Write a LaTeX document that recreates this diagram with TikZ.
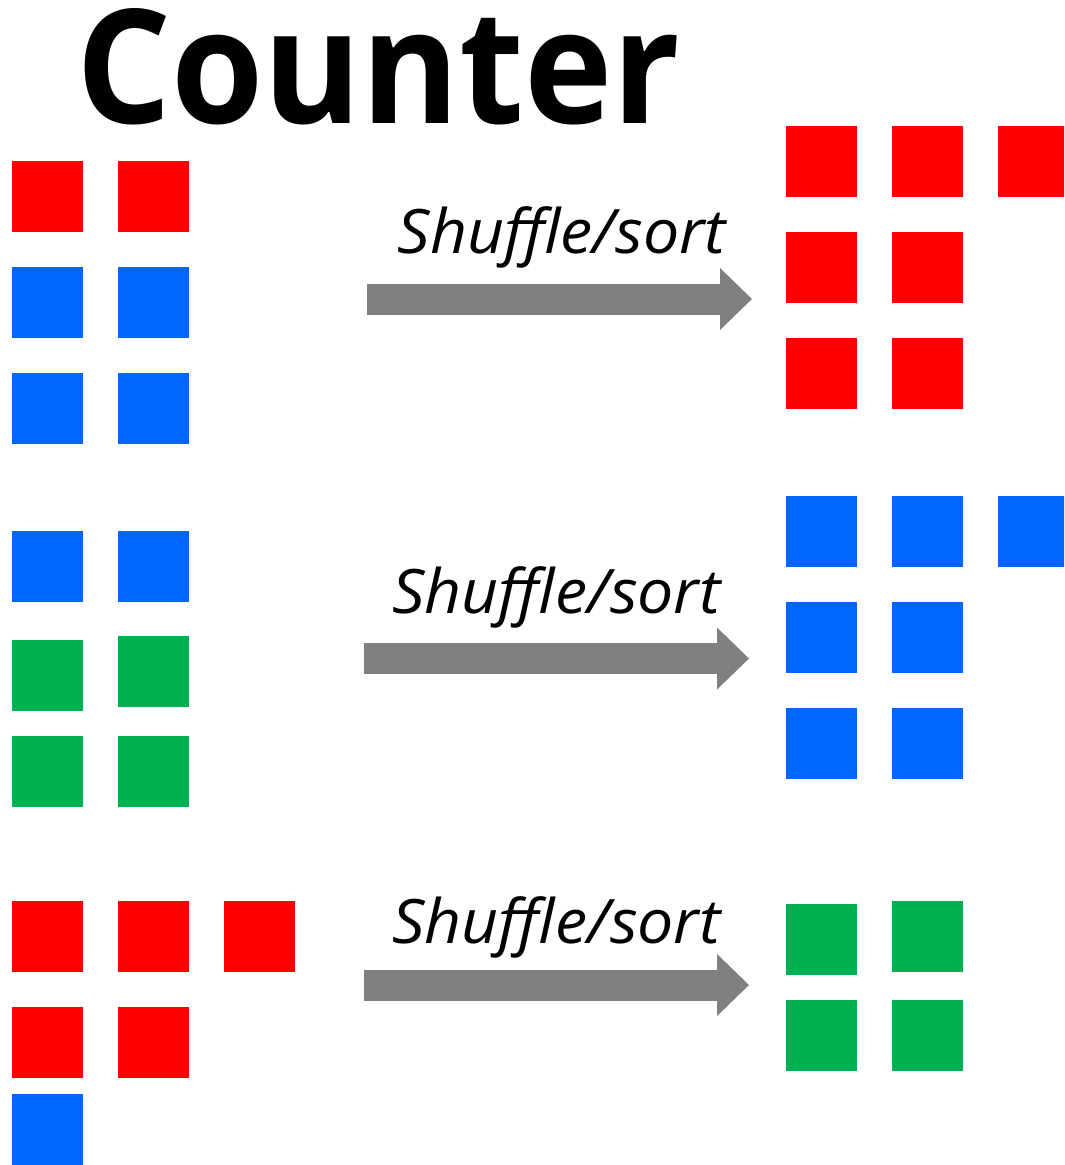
\documentclass[tikz,border=0pt]{standalone}
\usepackage{fontspec}
\setmainfont{Open Sans}
\usepackage{xcolor}
\usetikzlibrary{positioning,arrows.meta}

\definecolor{tilered}{HTML}{FF0000}
\definecolor{tileblue}{HTML}{0066FF}
\definecolor{tilegreen}{HTML}{00B050}
\definecolor{arrowgray}{HTML}{808080}

\begin{document}
\begin{tikzpicture}[
  x=0.25mm, y=-0.25mm,
  tile/.style={minimum size=17.75mm, inner sep=0pt, outer sep=0pt},
  redt/.style={tile, fill=tilered},
  bluet/.style={tile, fill=tileblue},
  greent/.style={tile, fill=tilegreen},
  bigarrow/.style={arrowgray, line width=7.75mm,
    -{Triangle[length=8mm, width=15.5mm, line width=0pt]}},
  sortlabel/.style={anchor=base, inner sep=0pt, xscale=1.05, transform shape,
    font=\fontsize{43.6}{50}\selectfont\itshape},
  node distance=8.75mm
]

\useasboundingbox (0,0) rectangle (1064,1165);
\clip (0,0) rectangle (1064,1165);

%% --- Title ----------------------------------------------------
\node[anchor=base, inner sep=0pt, xscale=0.94, transform shape,
      font=\fontsize{113}{120}\selectfont\bfseries]
     (title) at (378.5,124) {Counter};

%% --- Input 1: red / blue --------------------------------------
\node[redt]  (in1a) at (47.5,196.5) {};
\node[redt,  right=of in1a] (in1b) {};
\node[bluet, below=of in1a] (in1c) {};
\node[bluet, right=of in1c] (in1d) {};
\node[bluet, below=of in1c] (in1e) {};
\node[bluet, right=of in1e] (in1f) {};

%% --- Input 2: blue / green ------------------------------------
\node[bluet]  (in2a) at (47.5,566.5) {};
\node[bluet,  right=of in2a] (in2b) {};
\node[greent] (in2c) at (47.5,675.5) {};
\node[greent] (in2d) at (153.5,671.5) {};
\node[greent] (in2e) at (47.5,771.5) {};
\node[greent, right=of in2e] (in2f) {};

%% --- Input 3: red / blue --------------------------------------
\node[redt]  (in3a) at (47.5,936) {};
\node[redt,  right=of in3a] (in3b) {};
\node[redt,  right=of in3b] (in3c) {};
\node[redt,  below=of in3a] (in3d) {};
\node[redt,  right=of in3d] (in3e) {};
\node[bluet] (in3f) at (47.5,1129.5) {};

%% --- Output 1: all red ----------------------------------------
\node[redt] (out1a) at (821.5,161.5) {};
\node[redt, right=of out1a] (out1b) {};
\node[redt, right=of out1b] (out1c) {};
\node[redt, below=of out1a] (out1d) {};
\node[redt, right=of out1d] (out1e) {};
\node[redt, below=of out1d] (out1f) {};
\node[redt, right=of out1f] (out1g) {};

%% --- Output 2: all blue ---------------------------------------
\node[bluet] (out2a) at (821.5,531) {};
\node[bluet, right=of out2a] (out2b) {};
\node[bluet, right=of out2b] (out2c) {};
\node[bluet, below=of out2a] (out2d) {};
\node[bluet, right=of out2d] (out2e) {};
\node[bluet, below=of out2d] (out2f) {};
\node[bluet, right=of out2f] (out2g) {};

%% --- Output 3: all green --------------------------------------
\node[greent] (out3a) at (821.5,939.5) {};
\node[greent] (out3b) at (927.5,936) {};
\node[greent] (out3c) at (821.5,1035.5) {};
\node[greent, right=of out3c] (out3d) {};

%% --- Shuffle/sort arrows --------------------------------------
\coordinate (a1s) at (367,299);
\coordinate (a1e) at (752,299);
\coordinate (a2s) at (364,658.5);
\coordinate (a2e) at (749,658.5);
\coordinate (a3s) at (364,985);
\coordinate (a3e) at (749,985);

\draw[bigarrow] (a1s) -- (a1e);
\draw[bigarrow] (a2s) -- (a2e);
\draw[bigarrow] (a3s) -- (a3e);

\node[sortlabel] (lab1) at (562,254)   {Shuffle/sort};
\node[sortlabel] (lab2) at (556.5,613) {Shuffle/sort};
\node[sortlabel] (lab3) at (556.5,943) {Shuffle/sort};

\end{tikzpicture}
\end{document}
